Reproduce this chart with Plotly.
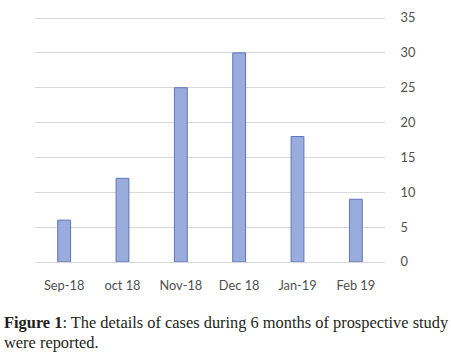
import plotly.graph_objects as go

months = ["Sep-18", "oct 18", "Nov-18", "Dec 18", "Jan-19", "Feb 19"]
cases = [6, 12, 25, 30, 18, 9]
y_ticks = [0, 5, 10, 15, 20, 25, 30, 35]

W, H = 451, 361
L, R, T, B = 35, 66, 15, 99
pw = W - L - R
ph = H - T - B

fig = go.Figure(go.Bar(
    x=months, y=cases, width=0.22,
    marker=dict(color="#9aacdd", line=dict(color="#5d75b9", width=1)),
))

def px2paper_x(px):
    return (px - L) / pw

def px2paper_y(py):
    return (H - B - py) / ph

fig.update_layout(
    width=W, height=H,
    margin=dict(l=L, r=R, t=T, b=B),
    paper_bgcolor="white", plot_bgcolor="white",
    showlegend=False,
    font=dict(family="Lato, Open Sans, sans-serif", size=12, color="#595959"),
    xaxis=dict(showgrid=False, showline=False, zeroline=False, automargin=False,
               ticks="outside", ticklen=12, tickcolor="rgba(0,0,0,0)",
               tickfont=dict(size=12.8, color="#505050"), range=[-0.5, 5.5]),
    yaxis=dict(side="right", range=[0, 35.43], tickvals=y_ticks, automargin=False,
               showgrid=True, gridcolor="#d9d9d9", gridwidth=1,
               zeroline=True, zerolinecolor="#d9d9d9", zerolinewidth=1,
               showline=False, ticks="outside", ticklen=12, tickcolor="rgba(0,0,0,0)",
               tickfont=dict(size=12.8, color="#505050")),
    annotations=[
        dict(xref="paper", yref="paper", x=px2paper_x(2), y=px2paper_y(322),
             xanchor="left", yanchor="middle", showarrow=False,
             text="<b>Figure 1</b>: The details of cases during 6 months of prospective study",
             font=dict(family="Liberation Serif, serif", size=16.4, color="#231f20")),
        dict(xref="paper", yref="paper", x=px2paper_x(2), y=px2paper_y(342),
             xanchor="left", yanchor="middle", showarrow=False,
             text="were reported.",
             font=dict(family="Liberation Serif, serif", size=16.4, color="#231f20")),
    ],
)

fig.write_html("out.html", config={"displayModeBar": False},
               post_script="document.body.style.margin='0';document.body.style.overflow='hidden';")
